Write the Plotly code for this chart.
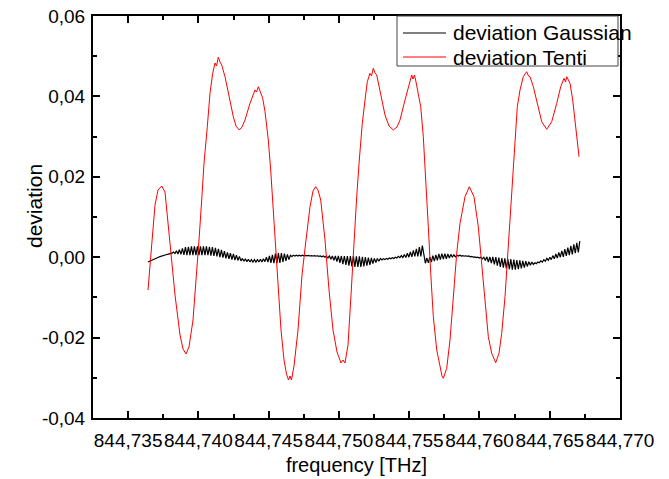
import plotly.graph_objects as go

# ---------------- data ----------------
# deviation of the Tenti fit (red)
tenti_freq = [
    844.736414, 844.736677, 844.736912, 844.737125, 844.737389, 844.737624, 844.737979, 844.738335,
    844.738691, 844.738904, 844.739118, 844.739331, 844.739616, 844.739901, 844.740043, 844.740235,
    844.740399, 844.740634, 844.740826, 844.741018, 844.741182, 844.741288, 844.741416, 844.741537,
    844.741658, 844.741893, 844.742128, 844.742484, 844.742676, 844.742911, 844.743103, 844.743316,
    844.743672, 844.743886, 844.744028, 844.744135, 844.744263, 844.744384, 844.744576, 844.744740,
    844.744974, 844.745145, 844.745330, 844.745451, 844.745665, 844.745878, 844.746092, 844.746269,
    844.746412, 844.746519, 844.746625, 844.746803, 844.747088, 844.747372, 844.747657, 844.747942,
    844.748155, 844.748347, 844.748511, 844.748703, 844.749009, 844.749294, 844.749578, 844.749863,
    844.750148, 844.750290, 844.750432, 844.750646, 844.750859, 844.751073, 844.751265, 844.751450,
    844.751663, 844.751856, 844.752019, 844.752211, 844.752318, 844.752446, 844.752567, 844.752688,
    844.752973, 844.753279, 844.753563, 844.753869, 844.754133, 844.754346, 844.754702, 844.754937,
    844.755058, 844.755179, 844.755271, 844.755378, 844.755485, 844.755648, 844.755819, 844.756004,
    844.756196, 844.756360, 844.756531, 844.756716, 844.756958, 844.757193, 844.757335, 844.757427,
    844.757548, 844.757669, 844.757904, 844.758139, 844.758381, 844.758616, 844.758972, 844.759277,
    844.759612, 844.759918, 844.760160, 844.760395, 844.760630, 844.760871, 844.761156, 844.761391,
    844.761583, 844.761818, 844.762053, 844.762295, 844.762530, 844.762693, 844.762885, 844.763120,
    844.763241, 844.763362, 844.763490, 844.763597, 844.763832, 844.764116, 844.764430, 844.764785,
    844.765141, 844.765497, 844.765782, 844.766016, 844.766123, 844.766209, 844.766337, 844.766444,
    844.766635, 844.766849, 844.766963, 844.767084,
]
tenti_dev = [
    -0.00816, 0.00428, 0.01299, 0.01672, 0.01771, 0.01622, 0.00428, -0.00940,
    -0.01935, -0.02284, -0.02408, -0.02234, -0.01562, -0.00318, 0.00428, 0.01423,
    0.02336, 0.03246, 0.04077, 0.04575, 0.04831, 0.04756, 0.04973, 0.04856,
    0.04781, 0.04490, 0.04077, 0.03495, 0.03264, 0.03164, 0.03239, 0.03413,
    0.03828, 0.04035, 0.04159, 0.04109, 0.04241, 0.04134, 0.03953, 0.03619,
    0.02915, 0.02169, 0.01174, 0.00428, -0.00816, -0.01811, -0.02557, -0.02905,
    -0.03055, -0.02955, -0.03055, -0.02706, -0.01811, -0.00443, 0.00428, 0.01256,
    0.01647, 0.01754, 0.01672, 0.01423, 0.00428, -0.00816, -0.01811, -0.02358,
    -0.02632, -0.02557, -0.02632, -0.02184, -0.00940, 0.00428, 0.01505, 0.02418,
    0.03331, 0.03910, 0.04366, 0.04575, 0.04507, 0.04699, 0.04582, 0.04532,
    0.04077, 0.03537, 0.03264, 0.03164, 0.03239, 0.03413, 0.03910, 0.04241,
    0.04358, 0.04532, 0.04433, 0.04532, 0.04358, 0.04077, 0.03744, 0.02998,
    0.01920, 0.00759, -0.00400, -0.01480, -0.02308, -0.02764, -0.02955, -0.03012,
    -0.02856, -0.02764, -0.02060, -0.01065, 0.00097, 0.00843, 0.01505, 0.01754,
    0.01505, 0.00759, -0.00236, -0.01231, -0.01978, -0.02391, -0.02624, -0.02391,
    -0.01893, -0.00983, 0.00261, 0.01672, 0.02998, 0.03744, 0.04159, 0.04490,
    0.04557, 0.04614, 0.04507, 0.04490, 0.04241, 0.03828, 0.03371, 0.03182,
    0.03371, 0.03828, 0.04241, 0.04450, 0.04358, 0.04490, 0.04408, 0.04326,
    0.03910, 0.03289, 0.02915, 0.02500,
]

# deviation of the Gaussian fit (black), sampled on an even frequency grid, in units of 1e-3
gauss_f_start = 844.73641
gauss_f_step = 0.0001067
gauss_dev_milli = [
    # smooth start
    -1.2, -1.0, -0.8, -0.6, -0.45, -0.3, -0.15, 0.0, 0.15, 0.3, 0.4, 0.5, 0.6, 0.7, 0.8, 0.9, 1.0,
    # first wobble
    1.3, 0.9, 1.6, 0.8, 1.9, 0.7, 2.2, 0.6, 2.5, 0.5, 2.6, 0.5, 2.7, 0.5, 2.7, 0.5,
    2.7, 0.5, 2.7, 0.5, 2.7, 0.5, 2.7, 0.5, 2.6, 0.4, 2.5, 0.3, 2.3, 0.2, 2.1, 0.0,
    1.8, -0.1, 1.5, -0.3, 1.2, -0.4, 1.0, -0.6, 0.8, -0.7, 0.5, -0.8, 0.2, -0.9,
    -0.3, -1.0, -0.4, -1.1, -0.5, -1.2, -0.6, -1.2, -0.6, -1.2, -0.6, -1.2, -0.5, -1.2, -0.4, -1.1,
    0.0, -1.2, 0.3, -1.4, 0.6, -1.5, 0.9, -1.5, 1.0, -1.4, 1.0, -1.2, 0.9, -0.9, 0.7, -0.6,
    # quiet part
    0.5, 0.2, 0.5, 0.3, 0.5, 0.3, 0.5, 0.3, 0.5, 0.35, 0.45, 0.35, 0.45, 0.3, 0.4, 0.3,
    0.4, 0.25, 0.35, 0.2, 0.3, 0.1, 0.3, 0.0, 0.3, -0.2, 0.3,
    -0.5, 0.3, -0.8, 0.3, -1.1, 0.3, -1.4, 0.3, -1.7, 0.3, -1.9, 0.3, -2.1, 0.3, -2.3, 0.3,
    -2.4, 0.2, -2.4, 0.2, -2.4, 0.1, -2.3, 0.0, -2.1, -0.1, -1.9, -0.2, -1.6, -0.3, -1.3, -0.3,
    -1.0, -0.3, -0.7,
    -0.4, -0.6, -0.3, -0.5, -0.2, -0.4, -0.1, -0.3, 0.0, -0.2, 0.2, -0.1, 0.4,
    -0.1, 0.7, -0.1, 1.0, 0.0, 1.3, 0.1, 1.7, 0.2, 2.1, 0.2, 2.5, 0.2, 2.9, 0.3,
    # after the step
    -1.5, -0.2, -1.4, 0.1, -1.2, 0.4, -1.0, 0.6, -0.8, 0.8, -0.6, 0.9, -0.5, 0.9, -0.4, 0.8,
    -0.2, 0.7, 0.0, 0.6, 0.1, 0.5,
    0.3, 0.5, 0.3, 0.4, 0.25, 0.35, 0.2, 0.3, 0.1, 0.2, 0.0, 0.1, -0.1, 0.0, -0.2, 0.0, -0.4,
    0.0, -0.8, 0.1, -1.2, 0.1, -1.5, 0.1, -1.8, 0.0, -2.1, -0.1, -2.4, -0.2, -2.6, -0.3, -2.8,
    -0.4, -3.0, -0.5, -3.1, -0.6, -3.1, -0.7, -3.0, -0.8, -2.8, -0.9, -2.6, -1.0, -2.3, -1.1,
    -2.0, -1.2,
    -1.8, -1.4, -1.6, -1.2, -1.4, -0.9, -1.2, -0.6, -1.0, -0.3, -0.8, 0.0, -0.6, 0.4, -0.4, 0.8,
    -0.2, 1.2, 0.0, 1.6, 0.1, 2.0, 0.3, 2.4, 0.5, 2.8, 0.7, 3.2, 1.0, 3.6, 1.2, 4.0,
]
gauss_freq = [gauss_f_start + i * gauss_f_step for i in range(len(gauss_dev_milli))]
gauss_dev = [v * 1e-3 for v in gauss_dev_milli]

x_tick_vals = [844.735, 844.740, 844.745, 844.750, 844.755, 844.760, 844.765, 844.770]
x_tick_text = ["844,735", "844,740", "844,745", "844,750", "844,755", "844,760", "844,765", "844,770"]
y_tick_vals = [-0.04, -0.02, 0.0, 0.02, 0.04, 0.06]
y_tick_text = ["-0,04", "-0,02", "0,00", "0,02", "0,04", "0,06"]

legend_names = ["deviation Gaussian", "deviation Tenti"]
legend_colors = ["#808080", "#ff0000"]
legend_widths = [2, 1]

# ---------------- figure ----------------
FONT = "Liberation Sans, Arial, sans-serif"
W, H = 669, 479
ML, MR, MT, MB = 93, 49, 16, 61
PW, PH = W - ML - MR, H - MT - MB


def px_x(p):  # pixel -> paper x
    return (p - ML) / PW


def px_y(p):  # pixel -> paper y
    return (H - MB - p) / PH


fig = go.Figure()
fig.add_trace(go.Scatter(
    x=gauss_freq, y=gauss_dev, mode="lines", name=legend_names[0],
    line=dict(color="black", width=1.2), showlegend=False, hoverinfo="skip",
))
fig.add_trace(go.Scatter(
    x=tenti_freq, y=tenti_dev, mode="lines", name=legend_names[1],
    line=dict(color="#ff0000", width=1), showlegend=False, hoverinfo="skip",
))

# legend box drawn by hand so that it matches the original layout
shapes = [dict(type="rect", xref="paper", yref="paper",
               x0=px_x(397), x1=px_x(618), y0=px_y(66), y1=px_y(16),
               line=dict(color="#444444", width=1), fillcolor="white", layer="above")]
annotations = []
for k, (name, col, lw) in enumerate(zip(legend_names, legend_colors, legend_widths)):
    yc = 33 + 24 * k
    shapes.append(dict(type="line", xref="paper", yref="paper",
                       x0=px_x(403), x1=px_x(446), y0=px_y(yc), y1=px_y(yc),
                       line=dict(color=col, width=lw), layer="above"))
    annotations.append(dict(xref="paper", yref="paper", x=px_x(451), y=px_y(yc),
                            xanchor="left", yanchor="middle", showarrow=False,
                            text=name, font=dict(family=FONT, size=21, color="black")))

# y-axis title (placed as in the original, slightly above the axis centre)
annotations.append(dict(xref="paper", yref="paper", x=px_x(35), y=px_y(206),
                        xanchor="center", yanchor="middle", showarrow=False, textangle=-90,
                        text="deviation", font=dict(family=FONT, size=21, color="black")))

axis_common = dict(
    showgrid=False, zeroline=False, showline=True, linecolor="black", linewidth=2,
    mirror="ticks", ticks="inside", ticklen=7, tickwidth=1.5, tickcolor="black",
    tickfont=dict(family=FONT, size=19, color="black"), tickangle=0, automargin=False,
)

fig.update_layout(
    width=W, height=H,
    margin=dict(l=ML, r=MR, t=MT, b=MB),
    paper_bgcolor="white", plot_bgcolor="white",
    font=dict(family=FONT, color="black"),
    showlegend=False,
    shapes=shapes, annotations=annotations,
    xaxis=dict(
        range=[844.7325, 844.770], tickmode="array",
        tickvals=x_tick_vals, ticktext=x_tick_text, ticklabelstandoff=4,
        minor=dict(ticks="inside", ticklen=4, tickcolor="black", dtick=0.0025, tick0=844.7325),
        title=dict(text="frequency [THz]", font=dict(family=FONT, size=20, color="black"), standoff=8),
        **axis_common,
    ),
    yaxis=dict(
        range=[-0.04, 0.06], tickmode="array",
        tickvals=y_tick_vals, ticktext=y_tick_text, ticklabelstandoff=2,
        minor=dict(ticks="inside", ticklen=4, tickcolor="black", dtick=0.01, tick0=-0.03),
        **axis_common,
    ),
)

fig.write_html("out.html")
